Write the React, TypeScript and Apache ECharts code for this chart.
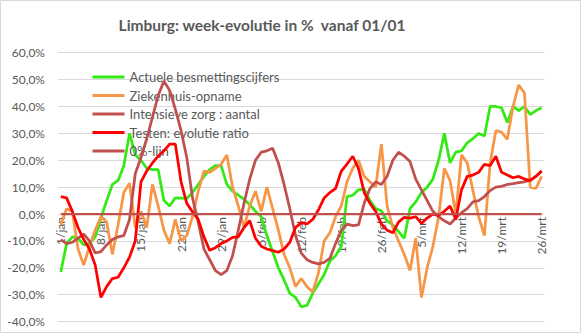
import React, { useEffect, useRef } from 'react';
import * as echarts from 'echarts';

const titleText = 'Limburg: week-evolutie in %  vanaf 01/01';
const months = ['jan', 'feb', 'mrt'];
const monthDays = [31, 28, 26];
const categories: string[] = [];
months.forEach((m, i) => {
  for (let d = 1; d <= monthDays[i]; d++) categories.push(`${d}/${m}`);
});
// x tick labels: every 7th day, starting 1/jan
const tickLabels = ['1/jan', '8/jan', '15/jan', '22/jan', '29/jan', '5/feb', '12/feb', '19/feb', '26/feb', '5/mrt', '12/mrt', '19/mrt', '26/mrt'];

const seriesNames = [
  'Actuele besmettingscijfers',
  'Ziekenhuis-opname',
  'Intensieve zorg : aantal',
  'Testen: evolutie ratio',
  '0%-lijn',
];

const besmettingen = [
  -21.5, -11, -8.5, -9, -11.5, -11, -8.5, -1.5, 5, 11,
  12.5, 18, 30, 22, 20, 17, 16.5, 16.5, 5, 3,
  6, 5.9, 5.8, 8, 11, 14, 16.5, 18, 18, 11,
  8.5, 7, 5.5, 3.5, 1, -1, -8, -14, -20, -24.5,
  -29.5, -31, -34.5, -34, -29.5, -26, -22.5, -17.5, -15.5, -12,
  6.5, 7, 9, 9.3, 5, 2, 1.2, -2.5, -4, -6.5,
  -9, 2, 4.5, 8, 10, 13, 20, 30, 19, 23,
  23.5, 26.5, 28, 30, 29, 40, 40, 39.5, 34, 40,
  38.5, 40, 37, 38.5, 39.5,
];

const ziekenhuis = [
  -4, 2, 1, -13, -19, -12, -6, -1, -3, -15,
  -4, 8, 11.5, -5, 1, -5, 11, 3, -6, -11,
  -2, -10, -8, -1, 8.5, 16, 15.5, 17, 18.5, 22,
  10, 3, -5, 3, 8.5, 1, 10, 2, -6, -15,
  -20, -27, -24, -27, -29, -22, -10, -7, -1, 3,
  12, 17, 20, 14, 12, 10, 26, 3, -5, -10,
  -15, -21, -9, -31, -20, -12, -1, 17, 12.4, 0,
  22, 19, 8.7, -1, -8, 19, 31, 30.5, 27.8, 40,
  48, 45, 10, 9.5, 14,
];

const intensieveZorg = [
  -9.5, -11, -10.5, -9, -7.5, -10, -14.5, -14, -11.5, -9.5,
  -8.5, -8, -2, 15, 21, 28, 36, 44, 49.5, 46,
  39, 31, 21, 6, -3, -13, -17, -21, -22.5, -21,
  -15.5, -6, 4, 13, 20, 23, 23.5, 24.5, 19, 11,
  2, -8, -14.5, -17, -18, -18.5, -18, -16.5, -11, -6,
  -3.7, -4.3, -4, 4, 9.5, 12, 11, 14, 20, 23,
  21.5, 19.5, 13, 9, 5, 1, -1, -2.5, -3.7, -1.5,
  0.5, 2, 4.5, 5, 6.5, 8.7, 10, 10.3, 11, 11.3,
  11.7, 12, 12.5, 14, 16,
];

const testen = [
  6.5, 6, 1, -5, -9.5, -13, -19, -31, -27, -24,
  -23.5, -20, -16, -10, 12, 16, 19, 21.5, 23.5, 26,
  26, 12, 4, 0.8, -2, -8.5, -13.5, -12.5, -11, -10,
  -8.7, -8.5, -5, -2.5, -9, -12, -13, -13.6, -14.2, -13,
  -10.5, -5, -3.2, -3.7, -2, 1.5, 6, 8, 9.5, 16,
  18.6, 21.5, 17, 8, 4, 1, -3.7, -6, -7, -3,
  -1.2, -1.5, -1, -3.5, -1.5, 0, -0.5, 1, 3, -2,
  9, 14, 14.5, 15.5, 18.5, 18, 21.5, 15.5, 14.5, 13.5,
  14, 13, 12.5, 14, 16,
];

const nulLijn = categories.map(() => 0);

const colors = ['#33EA14', '#F79646', '#C0504D', '#FF0000', '#C0504D'];
const seriesData = [besmettingen, ziekenhuis, intensieveZorg, testen, nulLijn];

const FONT = 'Lato, "Open Sans", sans-serif';
const GRAY = '#595959';

export default function App() {
  const ref = useRef<HTMLDivElement>(null);
  useEffect(() => {
    if (!ref.current) return;
    const chart = echarts.init(ref.current, undefined, { renderer: 'svg' });
    const lineSeries = seriesNames.map((name, i) => ({
      name,
      type: 'line',
      data: seriesData[i],
      symbol: 'none',
      smooth: false,
      color: colors[i],
      lineStyle: { color: colors[i], width: i === 4 ? 2.25 : 2.75 },
      z: 3 + i,
    }));
    const labelSeries = {
      name: 'xlabels',
      type: 'custom',
      silent: true,
      z: 1,
      data: tickLabels.map((t) => [categories.indexOf(t), 0]),
      renderItem: (params: any, api: any) => {
        const idx = api.value(0);
        const p = api.coord([idx, 0]);
        return {
          type: 'text',
          x: p[0],
          y: p[1] + 3,
          rotation: Math.PI / 2,
          style: {
            text: categories[idx],
            fill: GRAY,
            font: `12px ${FONT}`,
            textAlign: 'right',
            textVerticalAlign: 'middle',
          },
        };
      },
    };
    chart.setOption({
      animation: false,
      backgroundColor: '#FFFFFF',
      graphic: [
        {
          type: 'rect',
          shape: { x: 0.5, y: 0.5, width: 580, height: 332 },
          style: { fill: 'none', stroke: '#D9D9D9', lineWidth: 1 },
          silent: true,
        },
        {
          type: 'text',
          x: 262,
          y: 25,
          style: {
            text: titleText,
            fill: GRAY,
            font: `bold 15.5px ${FONT}`,
            textAlign: 'center',
            textVerticalAlign: 'middle',
          },
        },
      ],
      legend: {
        orient: 'vertical',
        left: 87.5,
        top: 64.5,
        icon: 'rect',
        itemWidth: 32,
        itemHeight: 3,
        itemGap: 3.5,
        data: seriesNames,
        textStyle: { color: GRAY, fontSize: 13, fontFamily: FONT, lineHeight: 15 },
      },
      grid: { left: 58, top: 52.7, width: 486.5, height: 268.9, containLabel: false },
      xAxis: {
        type: 'category',
        data: categories,
        boundaryGap: true,
        axisLine: { show: false, onZero: true },
        axisTick: { show: false },
        axisLabel: { show: false },
        splitLine: { show: false },
      },
      yAxis: {
        type: 'value',
        min: -40,
        max: 60,
        interval: 10,
        axisLine: { show: false },
        axisTick: { show: false },
        axisLabel: {
          margin: 13,
          color: GRAY,
          fontSize: 12,
          fontFamily: FONT,
          formatter: (v: number) => v.toFixed(1).replace('.', ',') + '%',
        },
        splitLine: { lineStyle: { color: '#D9D9D9', width: 1 } },
      },
      series: [labelSeries, ...lineSeries],
    });
    return () => chart.dispose();
  }, []);
  return (
    <div
      ref={ref}
      style={{ position: 'fixed', left: 0, top: 0, width: 581, height: 333 }}
    />
  );
}
